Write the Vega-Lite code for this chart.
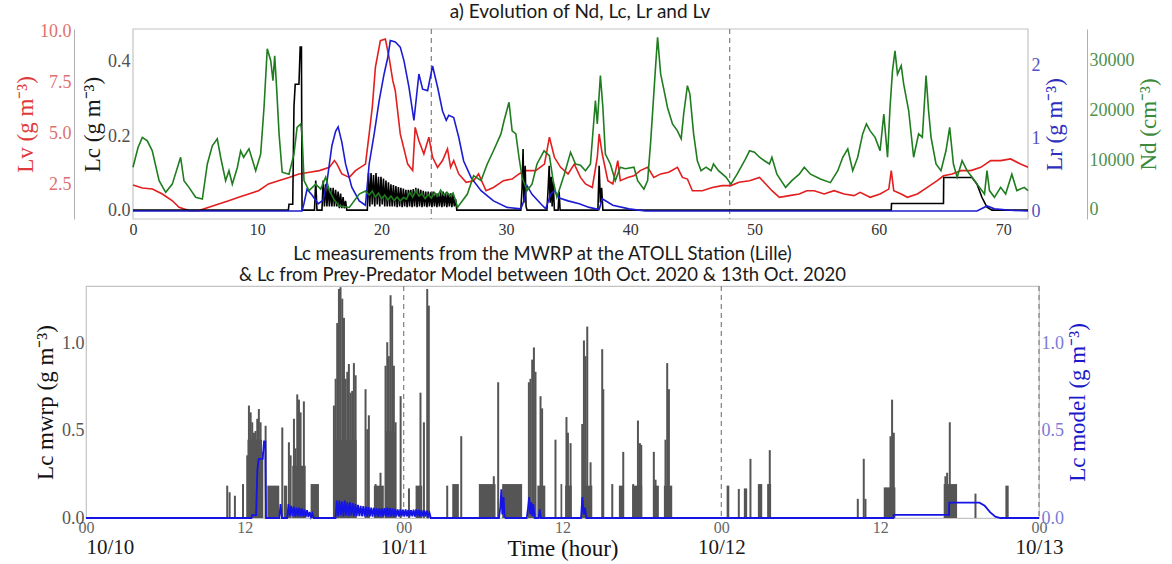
{
  "$schema": "https://vega.github.io/schema/vega-lite/v6.json",
  "background": "white",
  "padding": {"left": 14, "top": 3, "right": 4, "bottom": 0},
  "config": {
    "view": {"stroke": "#c4c4c4", "strokeWidth": 1.2},
    "axis": {"grid": false, "ticks": false, "domain": false, "labelFlush": false, "labelFont": "Liberation Serif", "titleFont": "Liberation Serif", "labelFontSize": 18, "titleFontSize": 23, "titleFontWeight": "normal"},
    "title": {"font": "Lato", "fontWeight": "normal", "fontSize": 19, "color": "#1a1a1a"}
  },
  "datasets": {
    "lv": [
      {"h":0,"v":2.5},{"h":0.75,"v":2.35},{"h":1.56,"v":2.3},{"h":2.36,"v":2.06},{"h":3.17,"v":1.73},{"h":3.7,"v":1.41},{"h":4.5,"v":1.25},{"h":5.3,"v":1.25},{"h":6.1,"v":1.41},{"h":6.9,"v":1.57},{"h":7.7,"v":1.73},{"h":8.5,"v":1.9},{"h":9.3,"v":2.06},{"h":10.1,"v":2.22},{"h":10.9,"v":2.55},{"h":11.7,"v":2.71},{"h":12.55,"v":2.87},{"h":13.35,"v":3.04},{"h":14.2,"v":3.12},{"h":15.0,"v":3.2},{"h":15.8,"v":3.36},{"h":16.2,"v":3.69},{"h":16.4,"v":3.53},{"h":16.8,"v":3.04},{"h":17.4,"v":2.87},{"h":17.9,"v":3.2},{"h":18.7,"v":3.52},{"h":19.0,"v":4.99},{"h":19.25,"v":6.29},{"h":19.5,"v":8.24},{"h":19.9,"v":9.54},{"h":20.3,"v":9.62},{"h":20.6,"v":8.73},{"h":20.9,"v":7.59},{"h":21.1,"v":7.1},{"h":21.5,"v":4.99},{"h":22.1,"v":3.52},{"h":22.5,"v":3.2},{"h":22.7,"v":5.31},{"h":23.0,"v":4.66},{"h":23.4,"v":4.01},{"h":23.8,"v":4.83},{"h":24.1,"v":3.85},{"h":24.5,"v":3.36},{"h":24.9,"v":3.69},{"h":25.3,"v":4.26},{"h":25.55,"v":3.36},{"h":25.8,"v":3.69},{"h":26.2,"v":3.04},{"h":26.8,"v":2.63},{"h":27.4,"v":2.71},{"h":27.8,"v":3.04},{"h":28.4,"v":2.22},{"h":29.0,"v":2.38},{"h":29.8,"v":2.71},{"h":30.5,"v":2.79},{"h":31.05,"v":3.04},{"h":31.6,"v":3.2},{"h":32.4,"v":3.2},{"h":33.1,"v":3.52},{"h":33.5,"v":4.83},{"h":33.9,"v":3.85},{"h":34.4,"v":3.36},{"h":35.0,"v":3.04},{"h":35.5,"v":3.52},{"h":36.0,"v":2.87},{"h":36.4,"v":2.55},{"h":36.95,"v":2.38},{"h":37.35,"v":3.85},{"h":37.5,"v":4.99},{"h":37.75,"v":4.01},{"h":38.2,"v":2.71},{"h":38.6,"v":2.55},{"h":39.0,"v":3.69},{"h":39.2,"v":2.71},{"h":39.8,"v":2.87},{"h":40.3,"v":2.95},{"h":40.8,"v":3.2},{"h":41.4,"v":3.36},{"h":41.9,"v":2.87},{"h":42.45,"v":3.04},{"h":43.1,"v":3.12},{"h":43.8,"v":3.36},{"h":44.2,"v":2.87},{"h":44.6,"v":2.79},{"h":45.0,"v":2.22},{"h":45.8,"v":2.22},{"h":46.6,"v":2.38},{"h":47.4,"v":2.47},{"h":48.1,"v":2.47},{"h":48.75,"v":2.63},{"h":49.6,"v":2.71},{"h":50.4,"v":2.87},{"h":50.9,"v":2.55},{"h":51.4,"v":2.22},{"h":52.0,"v":1.9},{"h":52.8,"v":1.98},{"h":53.6,"v":2.06},{"h":54.2,"v":2.22},{"h":54.8,"v":2.22},{"h":55.6,"v":2.06},{"h":56.4,"v":2.22},{"h":57.2,"v":2.06},{"h":58.0,"v":1.98},{"h":58.5,"v":2.14},{"h":59.3,"v":1.9},{"h":60.1,"v":2.06},{"h":60.8,"v":2.3},{"h":61.0,"v":3.2},{"h":61.2,"v":2.22},{"h":61.8,"v":2.06},{"h":62.3,"v":1.9},{"h":63.1,"v":2.06},{"h":63.9,"v":2.38},{"h":64.7,"v":2.71},{"h":65.2,"v":2.95},{"h":65.9,"v":3.04},{"h":66.6,"v":3.2},{"h":67.4,"v":3.2},{"h":68.2,"v":3.36},{"h":69.0,"v":3.69},{"h":69.8,"v":3.69},{"h":70.6,"v":3.77},{"h":71.4,"v":3.52},{"h":72.0,"v":3.36}
    ],
    "nd": [
      {"h":0,"v":8600},{"h":0.4,"v":12500},{"h":0.75,"v":14600},{"h":1.15,"v":13900},{"h":1.55,"v":11900},{"h":2.1,"v":5900},{"h":2.63,"v":3550},{"h":3.16,"v":5200},{"h":3.83,"v":10600},{"h":4.1,"v":5900},{"h":4.5,"v":4550},{"h":5.04,"v":2550},{"h":5.58,"v":2200},{"h":5.98,"v":9250},{"h":6.38,"v":12900},{"h":6.78,"v":14300},{"h":7.05,"v":10600},{"h":7.45,"v":5900},{"h":7.72,"v":7900},{"h":7.99,"v":5200},{"h":8.4,"v":8600},{"h":8.66,"v":11900},{"h":8.9,"v":10600},{"h":9.33,"v":12300},{"h":9.87,"v":7900},{"h":10.27,"v":11250},{"h":10.54,"v":20600},{"h":10.8,"v":32400},{"h":11.08,"v":30000},{"h":11.26,"v":26000},{"h":11.4,"v":31000},{"h":11.55,"v":24700},{"h":11.75,"v":15300},{"h":12.0,"v":7600},{"h":12.55,"v":7200},{"h":12.95,"v":11250},{"h":13.2,"v":16600},{"h":13.5,"v":17300},{"h":13.6,"v":15000},{"h":13.76,"v":5900},{"h":14.16,"v":3900},{"h":14.7,"v":5200},{"h":15.1,"v":4200},{"h":15.5,"v":6600},{"h":15.8,"v":3900},{"h":16.2,"v":2000},{"h":16.6,"v":800},{"h":17.4,"v":500},{"h":18.2,"v":3200},{"h":18.7,"v":3800},{"h":19.0,"v":3000},{"h":19.25,"v":3800},{"h":19.5,"v":2600},{"h":19.75,"v":3400},{"h":20.0,"v":2300},{"h":20.25,"v":3000},{"h":20.5,"v":2000},{"h":20.75,"v":2800},{"h":21.0,"v":1900},{"h":21.25,"v":2600},{"h":21.5,"v":1800},{"h":21.75,"v":2500},{"h":22.0,"v":2200},{"h":22.25,"v":3600},{"h":22.5,"v":2600},{"h":22.75,"v":3900},{"h":23.0,"v":2800},{"h":23.25,"v":3300},{"h":23.5,"v":2300},{"h":23.75,"v":3100},{"h":24.0,"v":2400},{"h":24.25,"v":3500},{"h":24.5,"v":2800},{"h":24.75,"v":4000},{"h":25.0,"v":3000},{"h":25.25,"v":3600},{"h":25.5,"v":2800},{"h":25.75,"v":3400},{"h":26.0,"v":1500},{"h":26.1,"v":500},{"h":26.9,"v":3200},{"h":27.4,"v":6900},{"h":28.0,"v":5900},{"h":28.5,"v":9250},{"h":29.0,"v":11900},{"h":29.6,"v":15300},{"h":29.85,"v":17950},{"h":30.25,"v":21650},{"h":30.5,"v":15900},{"h":30.8,"v":15300},{"h":31.05,"v":10600},{"h":31.3,"v":6600},{"h":31.7,"v":3900},{"h":32.1,"v":5200},{"h":32.5,"v":9250},{"h":33.07,"v":11900},{"h":33.5,"v":10900},{"h":33.8,"v":5900},{"h":34.1,"v":2550},{"h":34.7,"v":7200},{"h":35.2,"v":11600},{"h":35.6,"v":9250},{"h":36.0,"v":9000},{"h":36.4,"v":7900},{"h":36.8,"v":9250},{"h":37.2,"v":22000},{"h":37.35,"v":17300},{"h":37.6,"v":27000},{"h":37.8,"v":20600},{"h":38.0,"v":11250},{"h":38.4,"v":9250},{"h":38.8,"v":5900},{"h":39.2,"v":8600},{"h":39.6,"v":8300},{"h":40.3,"v":8600},{"h":40.6,"v":5900},{"h":41.1,"v":4200},{"h":41.4,"v":5900},{"h":41.65,"v":13900},{"h":42.0,"v":27300},{"h":42.2,"v":34700},{"h":42.45,"v":27300},{"h":42.7,"v":24300},{"h":43.0,"v":20600},{"h":43.4,"v":17300},{"h":43.8,"v":15900},{"h":44.1,"v":14300},{"h":44.3,"v":19300},{"h":44.6,"v":25000},{"h":44.8,"v":23300},{"h":45.1,"v":15300},{"h":45.4,"v":9900},{"h":45.7,"v":7900},{"h":46.1,"v":8600},{"h":46.5,"v":7900},{"h":46.7,"v":9250},{"h":47.1,"v":7900},{"h":47.7,"v":6600},{"h":48.1,"v":5200},{"h":48.6,"v":7200},{"h":49.2,"v":9900},{"h":49.6,"v":11900},{"h":50.0,"v":11600},{"h":50.4,"v":10600},{"h":50.8,"v":9900},{"h":51.2,"v":9250},{"h":51.4,"v":10600},{"h":51.8,"v":7200},{"h":52.5,"v":4550},{"h":53.0,"v":5900},{"h":53.6,"v":7200},{"h":54.0,"v":8600},{"h":54.5,"v":7200},{"h":55.3,"v":6230},{"h":56.1,"v":5500},{"h":56.7,"v":7900},{"h":57.1,"v":10600},{"h":57.5,"v":12300},{"h":57.9,"v":7900},{"h":58.3,"v":10600},{"h":58.7,"v":15300},{"h":59.0,"v":17300},{"h":59.3,"v":15900},{"h":59.7,"v":14600},{"h":60.1,"v":11900},{"h":60.4,"v":19300},{"h":60.7,"v":10600},{"h":60.9,"v":20600},{"h":61.1,"v":28000},{"h":61.3,"v":32000},{"h":61.5,"v":27300},{"h":61.8,"v":29000},{"h":62.0,"v":25300},{"h":62.4,"v":20000},{"h":62.8,"v":10600},{"h":63.2,"v":15300},{"h":63.5,"v":14600},{"h":63.8,"v":27000},{"h":64.0,"v":20000},{"h":64.2,"v":14600},{"h":64.6,"v":9250},{"h":65.0,"v":7900},{"h":65.4,"v":11900},{"h":65.7,"v":16600},{"h":66.0,"v":9250},{"h":66.3,"v":6600},{"h":66.7,"v":9900},{"h":67.1,"v":7900},{"h":67.5,"v":6600},{"h":67.9,"v":5200},{"h":68.5,"v":3200},{"h":68.7,"v":7900},{"h":68.9,"v":3900},{"h":69.3,"v":2550},{"h":69.8,"v":4550},{"h":70.2,"v":3200},{"h":70.7,"v":7200},{"h":71.1,"v":3900},{"h":71.7,"v":4550},{"h":72.0,"v":3900}
    ],
    "lr": [
      {"h":0,"v":0},{"h":13.6,"v":0},{"h":13.75,"v":0.1},{"h":14.0,"v":0.3},{"h":14.4,"v":0.22},{"h":14.9,"v":0.1},{"h":15.3,"v":0.15},{"h":15.6,"v":0.4},{"h":16.0,"v":0.9},{"h":16.3,"v":1.1},{"h":16.5,"v":1.16},{"h":16.8,"v":0.95},{"h":17.1,"v":0.65},{"h":17.6,"v":0.33},{"h":18.2,"v":0.14},{"h":18.7,"v":0.08},{"h":19.0,"v":0.65},{"h":19.4,"v":1.06},{"h":19.8,"v":1.52},{"h":20.2,"v":1.89},{"h":20.5,"v":2.12},{"h":20.7,"v":2.35},{"h":21.1,"v":2.33},{"h":21.5,"v":2.26},{"h":21.8,"v":2.07},{"h":22.2,"v":1.71},{"h":22.6,"v":1.25},{"h":23.0,"v":1.89},{"h":23.3,"v":1.68},{"h":23.7,"v":1.66},{"h":24.1,"v":2.0},{"h":24.5,"v":1.71},{"h":24.9,"v":1.38},{"h":25.2,"v":1.25},{"h":25.4,"v":1.32},{"h":25.8,"v":1.29},{"h":26.2,"v":1.02},{"h":26.6,"v":0.69},{"h":27.2,"v":0.46},{"h":28.0,"v":0.28},{"h":29.0,"v":0.14},{"h":30.1,"v":0.05},{"h":31.2,"v":0.03},{"h":31.45,"v":0.14},{"h":31.7,"v":0.35},{"h":32.1,"v":0.23},{"h":32.8,"v":0.1},{"h":33.2,"v":0.03},{"h":33.6,"v":0.23},{"h":33.9,"v":0.28},{"h":34.3,"v":0.18},{"h":35.0,"v":0.14},{"h":35.9,"v":0.1},{"h":36.7,"v":0.05},{"h":37.5,"v":0.02},{"h":37.75,"v":0.17},{"h":38.6,"v":0.08},{"h":39.9,"v":0.03},{"h":41.2,"v":0},{"h":67.9,"v":0},{"h":68.7,"v":0.07},{"h":69.3,"v":0.03},{"h":70.6,"v":0.01},{"h":72,"v":0}
    ],
    "lc": [
      {"h":0,"v":0},{"h":12.5,"v":0},{"h":12.55,"v":0.016},{"h":12.85,"v":0.016},{"h":12.95,"v":0.28},{"h":13.05,"v":0.34},{"h":13.35,"v":0.34},{"h":13.45,"v":0.44},{"h":13.55,"v":0.44},{"h":13.6,"v":0},{"h":14.6,"v":0},{"h":14.7,"v":0.08},{"h":14.8,"v":0},{"h":15.2,"v":0},{"h":15.3,"v":0.08},{"h":15.4,"v":0.01},{"h":15.5,"v":0.07},{"h":15.6,"v":0.01},{"h":15.7,"v":0.065},{"h":15.8,"v":0.01},{"h":15.9,"v":0.06},{"h":16.0,"v":0.01},{"h":16.1,"v":0.06},{"h":16.2,"v":0.01},{"h":16.3,"v":0.055},{"h":16.4,"v":0.01},{"h":16.5,"v":0.05},{"h":16.6,"v":0.005},{"h":16.7,"v":0.045},{"h":16.8,"v":0.005},{"h":16.9,"v":0.035},{"h":17.0,"v":0.005},{"h":17.1,"v":0.025},{"h":17.2,"v":0},{"h":18.85,"v":0},
      {"h":18.95,"v":0.1},{"h":19.05,"v":0.01},{"h":19.15,"v":0.1},{"h":19.25,"v":0.015},{"h":19.35,"v":0.095},{"h":19.45,"v":0.01},{"h":19.55,"v":0.1},{"h":19.65,"v":0.015},{"h":19.75,"v":0.09},{"h":19.85,"v":0.01},{"h":19.95,"v":0.09},{"h":20.05,"v":0.015},{"h":20.15,"v":0.085},{"h":20.25,"v":0.01},{"h":20.35,"v":0.08},{"h":20.45,"v":0.01},{"h":20.55,"v":0.075},{"h":20.65,"v":0.01},{"h":20.75,"v":0.07},{"h":20.85,"v":0.01},{"h":20.95,"v":0.068},{"h":21.05,"v":0.01},{"h":21.15,"v":0.065},{"h":21.25,"v":0.008},{"h":21.35,"v":0.062},{"h":21.45,"v":0.01},{"h":21.55,"v":0.06},{"h":21.65,"v":0.008},{"h":21.75,"v":0.058},{"h":21.85,"v":0.01},{"h":21.95,"v":0.055},{"h":22.05,"v":0.008},{"h":22.15,"v":0.055},{"h":22.25,"v":0.01},{"h":22.35,"v":0.055},{"h":22.45,"v":0.008},{"h":22.55,"v":0.057},{"h":22.65,"v":0.01},{"h":22.75,"v":0.06},{"h":22.85,"v":0.008},{"h":22.95,"v":0.058},{"h":23.05,"v":0.01},{"h":23.15,"v":0.055},{"h":23.25,"v":0.008},{"h":23.35,"v":0.052},{"h":23.45,"v":0.01},{"h":23.55,"v":0.05},{"h":23.65,"v":0.008},{"h":23.75,"v":0.05},{"h":23.85,"v":0.01},{"h":23.95,"v":0.048},{"h":24.05,"v":0.008},{"h":24.15,"v":0.05},{"h":24.25,"v":0.01},{"h":24.35,"v":0.046},{"h":24.45,"v":0.008},{"h":24.55,"v":0.045},{"h":24.65,"v":0.01},{"h":24.75,"v":0.048},{"h":24.85,"v":0.008},{"h":24.95,"v":0.05},{"h":25.05,"v":0.01},{"h":25.15,"v":0.047},{"h":25.25,"v":0.008},{"h":25.35,"v":0.045},{"h":25.45,"v":0.01},{"h":25.55,"v":0.045},{"h":25.65,"v":0.008},{"h":25.75,"v":0.042},{"h":25.85,"v":0.01},{"h":25.95,"v":0.03},{"h":26.05,"v":0},
      {"h":31.2,"v":0},{"h":31.3,"v":0.06},{"h":31.38,"v":0.165},{"h":31.45,"v":0.02},{"h":31.55,"v":0.12},{"h":31.62,"v":0.01},{"h":31.7,"v":0},{"h":33.3,"v":0},{"h":33.4,"v":0.06},{"h":33.48,"v":0.12},{"h":33.56,"v":0.02},{"h":33.64,"v":0.09},{"h":33.72,"v":0.01},{"h":33.8,"v":0.08},{"h":33.9,"v":0},{"h":34.2,"v":0},{"h":34.28,"v":0.05},{"h":34.36,"v":0},{"h":37.4,"v":0},{"h":37.5,"v":0.12},{"h":37.6,"v":0.02},{"h":37.7,"v":0.06},{"h":37.8,"v":0},{"h":61.0,"v":0},{"h":61.02,"v":0.018},{"h":65.2,"v":0.018},{"h":65.22,"v":0.088},{"h":67.5,"v":0.088},{"h":67.9,"v":0.07},{"h":68.3,"v":0.034},{"h":68.7,"v":0.008},{"h":69.1,"v":0},{"h":72,"v":0}
    ],
    "blocks": [
      {"t0":12.2,"t1":13.3,"v":0.45},{"t0":13.7,"t1":14.6,"v":0.186},{"t0":14.95,"t1":15.2,"v":0.186},{"t0":15.58,"t1":16.6,"v":0.3},{"t0":16.97,"t1":17.6,"v":0.195},{"t0":18.75,"t1":20.45,"v":0.45},{"t0":21.75,"t1":22.5,"v":0.186},{"t0":22.6,"t1":23.4,"v":0.5},{"t0":24.9,"t1":25.4,"v":0.186},{"t0":27.67,"t1":28.17,"v":0.195},{"t0":29.68,"t1":30.94,"v":0.195},{"t0":31.44,"t1":32.95,"v":0.195},{"t0":34.1,"t1":34.7,"v":0.186},{"t0":35.85,"t1":35.98,"v":0.195},{"t0":36.2,"t1":36.7,"v":0.186},{"t0":37.49,"t1":38.25,"v":0.186},{"t0":40.26,"t1":40.64,"v":0.186},{"t0":41.27,"t1":42.02,"v":0.186},{"t0":42.85,"t1":43.28,"v":0.186},{"t0":43.66,"t1":44.29,"v":0.186},{"t0":48.4,"t1":48.6,"v":0.186},{"t0":49.7,"t1":49.95,"v":0.17},{"t0":50.76,"t1":51.09,"v":0.195},{"t0":51.46,"t1":51.76,"v":0.195},{"t0":60.27,"t1":61.15,"v":0.176},{"t0":64.8,"t1":65.81,"v":0.195},{"t0":69.46,"t1":69.71,"v":0.186}
    ],
    "spikes": [
      {"t":10.67,"v":0.186},{"t":10.85,"v":0.148},{"t":11.25,"v":0.128},{"t":11.86,"v":0.195},{"t":12.18,"v":0.36},{"t":12.31,"v":0.646},{"t":12.44,"v":0.607},{"t":12.56,"v":0.55},{"t":12.69,"v":0.49},{"t":12.81,"v":0.5},{"t":12.94,"v":0.57},{"t":13.06,"v":0.626},{"t":13.19,"v":0.55},{"t":13.32,"v":0.38},{"t":13.57,"v":0.53},{"t":14.83,"v":0.52},{"t":15.33,"v":0.435},{"t":15.46,"v":0.36},{"t":15.71,"v":0.57},{"t":15.83,"v":0.4},{"t":15.96,"v":0.71},{"t":16.09,"v":0.68},{"t":16.21,"v":0.607},{"t":16.46,"v":0.67},{"t":18.73,"v":0.646},{"t":18.86,"v":0.8},{"t":18.98,"v":1.12},{"t":19.11,"v":1.316},{"t":19.23,"v":1.326},{"t":19.36,"v":1.26},{"t":19.49,"v":1.15},{"t":19.61,"v":0.8},{"t":19.74,"v":0.84},{"t":19.86,"v":0.885},{"t":19.99,"v":0.72},{"t":20.11,"v":0.73},{"t":20.24,"v":0.89},{"t":20.37,"v":0.82},{"t":21.12,"v":0.74},{"t":21.25,"v":0.51},{"t":21.37,"v":0.59},{"t":21.88,"v":0.195},{"t":22.25,"v":0.26},{"t":22.63,"v":0.875},{"t":22.76,"v":1.01},{"t":22.88,"v":0.93},{"t":23.01,"v":1.28},{"t":23.13,"v":1.22},{"t":23.26,"v":0.875},{"t":23.39,"v":0.55},{"t":23.77,"v":0.7},{"t":24.4,"v":0.17},{"t":25.27,"v":0.72},{"t":25.53,"v":0.55},{"t":25.78,"v":1.316},{"t":25.9,"v":1.22},{"t":27.29,"v":0.186},{"t":28.35,"v":0.47},{"t":30.81,"v":0.24},{"t":31.14,"v":0.78},{"t":33.46,"v":0.78},{"t":33.58,"v":0.8},{"t":33.71,"v":0.91},{"t":33.84,"v":0.98},{"t":33.96,"v":0.84},{"t":34.34,"v":0.7},{"t":34.46,"v":0.63},{"t":35.47,"v":0.45},{"t":36.3,"v":0.58},{"t":36.41,"v":0.49},{"t":36.61,"v":0.43},{"t":37.49,"v":0.54},{"t":37.62,"v":1.02},{"t":37.74,"v":0.93},{"t":37.87,"v":1.1},{"t":38.12,"v":0.32},{"t":39.0,"v":0.97},{"t":39.08,"v":0.74},{"t":39.76,"v":0.195},{"t":40.59,"v":0.38},{"t":41.34,"v":0.195},{"t":41.7,"v":0.56},{"t":41.85,"v":0.43},{"t":41.95,"v":0.42},{"t":42.9,"v":0.38},{"t":43.03,"v":0.22},{"t":43.78,"v":0.45},{"t":43.91,"v":0.89},{"t":44.04,"v":0.74},{"t":49.32,"v":0.167},{"t":50.2,"v":0.34},{"t":51.66,"v":0.39},{"t":58.31,"v":0.11},{"t":58.76,"v":0.34},{"t":58.89,"v":0.11},{"t":60.78,"v":0.47},{"t":60.9,"v":0.68},{"t":61.03,"v":0.49},{"t":64.93,"v":0.24},{"t":65.06,"v":0.26},{"t":65.26,"v":0.55},{"t":67.2,"v":0.14}
    ]
  },
  "vconcat": [
    {
      "title": {"text": "a) Evolution of Nd, Lc, Lr and Lv", "offset": 0, "dx": 23},
      "width": 942,
      "height": 190,
      "view": {"stroke": null},
      "encoding": {
        "x": {"field": "h", "type": "quantitative", "scale": {"domain": [0, 72], "range": [47, 942], "nice": false, "zero": false},
              "axis": {"values": [0,10,20,30,40,50,60,70], "title": null, "labelColor": "#333", "labelPadding": 2, "labelFontSize": 16}}
      },
      "layer": [
        {"data": {"values": [{"a": 0, "b": 72, "lo": 0, "hi": 1}]}, "mark": {"type": "rect", "filled": false, "color": "#c4c4c4", "strokeWidth": 1.2},
         "encoding": {"x": {"field": "a", "type": "quantitative"}, "x2": {"field": "b"},
                      "y": {"field": "lo", "type": "quantitative", "scale": {"domain": [0, 1], "nice": false, "zero": false}, "axis": null}, "y2": {"field": "hi"}}},
        {"data": {"values": [{"h": 24}, {"h": 48}]}, "mark": {"type": "rule", "color": "#8a8a8a", "strokeDash": [5, 4], "strokeWidth": 1.3}, "encoding": {}},
        {"data": {"name": "lv"}, "mark": {"type": "line", "color": "#e31e1e", "strokeWidth": 1.6},
         "encoding": {"y": {"field": "v", "type": "quantitative", "scale": {"domain": [0.84, 10.11], "nice": false, "zero": false},
            "axis": {"orient": "left", "offset": 12, "values": [2.5, 5, 7.5, 10], "format": ".1f", "domain": true, "domainColor": "#b0b0b0", "labelColor": "#e07070", "labelPadding": 3, "title": "Lv (g m⁻³)", "titleColor": "#e03a3a", "titlePadding": 2}}}},
        {"data": {"name": "lc"}, "mark": {"type": "line", "color": "#000000", "strokeWidth": 1.6},
         "encoding": {"y": {"field": "v", "type": "quantitative", "scale": {"domain": [-0.024, 0.489], "nice": false, "zero": false},
            "axis": {"orient": "left", "offset": -47, "values": [0, 0.2, 0.4], "format": ".1f", "labelColor": "#505050", "labelPadding": 3, "title": "Lc (g m⁻³)", "titleColor": "#1a1a1a", "titlePadding": 3}}}},
        {"data": {"name": "lr"}, "mark": {"type": "line", "color": "#1c1cd2", "strokeWidth": 1.6},
         "encoding": {"y": {"field": "v", "type": "quantitative", "scale": {"domain": [-0.11, 2.51], "nice": false, "zero": false},
            "axis": {"orient": "right", "values": [0, 1, 2], "format": "d", "labelColor": "#5252c4", "labelPadding": 3, "title": "Lr (g m⁻³)", "titleColor": "#2e2ec0", "titlePadding": 3, "titleAngle": 270, "titleBaseline": "top"}}}},
        {"data": {"name": "nd"}, "mark": {"type": "line", "color": "#1f7d1f", "strokeWidth": 1.6},
         "encoding": {"y": {"field": "v", "type": "quantitative", "scale": {"domain": [-1810, 36380], "nice": false, "zero": false},
            "axis": {"orient": "right", "offset": 59, "values": [0, 10000, 20000, 30000], "format": "d", "domain": true, "domainColor": "#b0b0b0", "labelColor": "#4d914d", "labelPadding": 2, "title": "Nd (cm⁻³)", "titleColor": "#3a8a3a", "titlePadding": 3, "titleAngle": 270, "titleBaseline": "top"}}}}
      ],
      "resolve": {"scale": {"y": "independent"}}
    },
    {
      "title": {"text": ["Lc measurements from the MWRP at the ATOLL Station (Lille)", "& Lc from Prey-Predator Model between 10th Oct. 2020 & 13th Oct. 2020"], "offset": 1, "fontSize": 18.5, "lineHeight": 21, "dx": -20},
      "width": 953,
      "height": 232,
      "layer": [
        {"data": {"name": "blocks"}, "mark": {"type": "rect", "color": "#555555"},
         "encoding": {
           "x": {"field": "t0", "type": "quantitative", "scale": {"domain": [0, 72], "nice": false, "zero": false}, "axis": null},
           "x2": {"field": "t1"},
           "y": {"field": "v", "type": "quantitative", "scale": {"domain": [0, 1.333], "nice": false}, "axis": null},
           "y2": {"datum": 0}}},
        {"data": {"name": "spikes"}, "mark": {"type": "rule", "color": "#555555", "strokeWidth": 2},
         "encoding": {
           "x": {"field": "t", "type": "quantitative", "scale": {"domain": [0, 72], "nice": false, "zero": false},
                 "axis": {"orient": "bottom", "values": [0,12,24,36,48,60,72], "labelExpr": "datum.value % 24 == 0 ? '00' : '12'", "labelColor": "#666", "labelFontSize": 16, "labelPadding": 1, "title": "Time (hour)", "titleFontSize": 23, "titleColor": "#111", "titlePadding": 2}},
           "y": {"field": "v", "type": "quantitative", "scale": {"domain": [0, 1.333], "nice": false},
                 "axis": {"orient": "left", "values": [0, 0.5, 1.0], "format": ".1f", "labelColor": "#555", "labelPadding": 2, "title": "Lc mwrp (g m⁻³)", "titleColor": "#111", "titlePadding": 4}},
           "y2": {"datum": 0}}},
        {"data": {"values": [{"t": 24}, {"t": 48}, {"t": 72}]}, "mark": {"type": "rule", "color": "#8a8a8a", "strokeDash": [5, 4], "strokeWidth": 1.3},
         "encoding": {"x": {"field": "t", "type": "quantitative", "scale": {"domain": [0, 72], "nice": false, "zero": false}, "axis": null}}},
        {"data": {"name": "lc"}, "mark": {"type": "line", "color": "#1414e6", "strokeWidth": 1.8},
         "encoding": {
           "x": {"field": "h", "type": "quantitative", "scale": {"domain": [0, 72], "nice": false, "zero": false},
                 "axis": {"orient": "bottom", "values": [0, 24, 48, 72], "labelExpr": "['10/10','10/11','10/12','10/13'][round(datum.value/24)]", "labelAlign": {"condition": {"test": "datum.value == 0", "value": "left"}, "value": "center"}, "labelColor": "#1a1a1a", "labelFontSize": 21, "labelPadding": 18, "title": null}},
           "y": {"field": "v", "type": "quantitative", "scale": {"domain": [0, 1.333], "nice": false},
                 "axis": {"orient": "right", "values": [0, 0.5, 1.0], "format": ".1f", "labelColor": "#7a7ad8", "labelPadding": 2, "title": "Lc model (g m⁻³)", "titleColor": "#1a1ac8", "titlePadding": 3, "titleAngle": 270, "titleBaseline": "top"}}}}
      ],
      "resolve": {"axis": {"x": "independent", "y": "independent"}}
    }
  ],
  "spacing": 7
}
